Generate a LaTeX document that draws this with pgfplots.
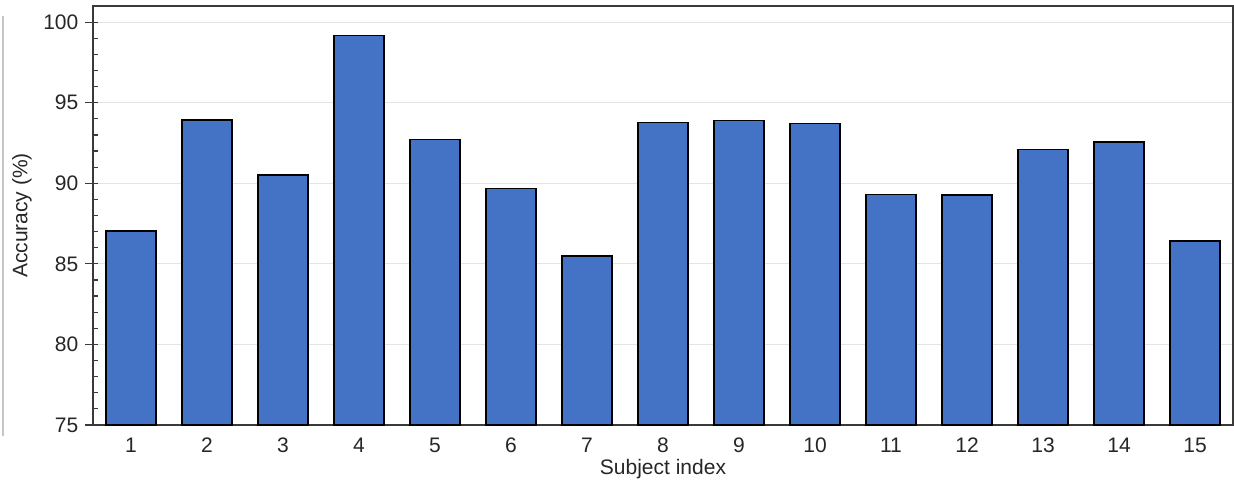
\documentclass[border=0pt]{standalone}
\usepackage{pgfplots}
\pgfplotsset{compat=1.18}
\usepackage{fontspec}
\setmainfont{Liberation Sans}
\definecolor{barblue}{HTML}{4472C4}
\definecolor{axisgray}{HTML}{3A3A3A}
\definecolor{gridgray}{HTML}{E4E4E4}
\begin{document}
\begin{tikzpicture}
\path[use as bounding box] (0,0) rectangle (925.5pt,360pt);
\draw[gray!45, line width=0.8pt] (2.25pt,33pt) -- (2.25pt,348pt);
\begin{axis}[
  at={(69.75pt,41.25pt)}, anchor=south west,
  scale only axis, width=855pt, height=314.25pt,
  xmin=0.5, xmax=15.5, ymin=75, ymax=101,
  ybar, bar width=0.66,
  xtick={1,...,15},
  ytick={75,80,...,100},
  minor y tick num=4,
  ymajorgrids,
  major grid style={gridgray, line width=0.9pt},
  axis line style={axisgray, line width=1.1pt},
  x tick style={draw=none},
  y tick style={axisgray, line width=0.9pt, xshift=3.75pt},
  tick align=outside,
  major tick length=9.75pt,
  minor tick length=3.75pt,
  ytick pos=left,
  xtick pos=bottom,
  yticklabel style={xshift=2.25pt},
  xticklabel style={yshift=3.75pt},
  /pgf/number format/assume math mode=true,
  tick label style={font=\fontsize{15.75}{18}\selectfont, text=black!85},
  label style={font=\fontsize{15.75}{18}\selectfont, text=black!85},
  xlabel={Subject index},
  ylabel={Accuracy (\%)},
  x label style={at={(axis description cs:0.5,-0.119)}, anchor=base},
  y label style={at={(axis description cs:-0.0623,0.5)}, anchor=center},
  clip=true,
]
\addplot[fill=barblue, draw=black, line width=1.1pt] coordinates {
(1,87.03) (2,93.92) (3,90.51) (4,99.17) (5,92.72) (6,89.68) (7,85.48)
(8,93.78) (9,93.90) (10,93.71) (11,89.31) (12,89.27) (13,92.10) (14,92.57) (15,86.43)
};
\end{axis}
\end{tikzpicture}
\end{document}
